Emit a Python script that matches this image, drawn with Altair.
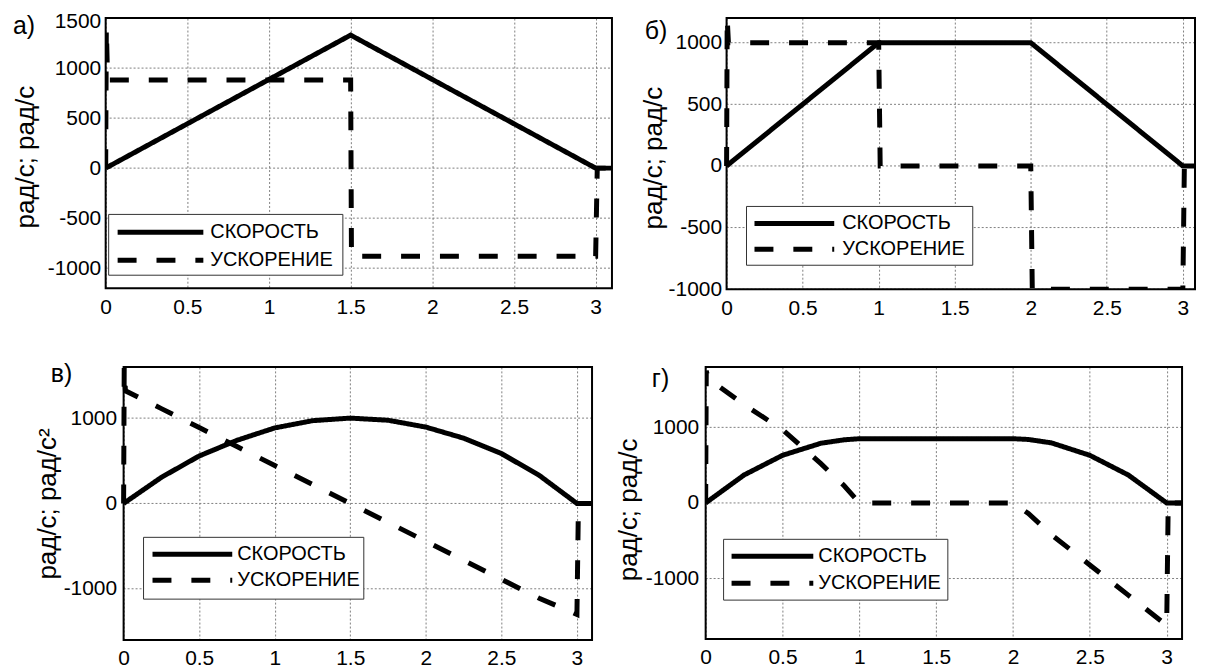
import altair as alt
import pandas as pd

FONT = "Liberation Sans"
SERIES = ["СКОРОСТЬ", "УСКОРЕНИЕ"]
X_TICKS = [0, 0.5, 1, 1.5, 2, 2.5, 3]

# ---- panel а) ----
t_vel_a = [0, 1.5, 3.0, 3.1]
vel_a = [0, 1330, 0, 0]
t_acc_a = [0, 0.004, 0.012, 1.5, 1.505, 3.0, 3.01, 3.1]
acc_a = [0, 1400, 880, 880, -880, -880, 0, 0]
yticks_a = [-1000, -500, 0, 500, 1000, 1500]

# ---- panel б) ----
t_vel_b = [0, 1.0, 2.0, 3.0, 3.08]
vel_b = [0, 1000, 1000, 0, 0]
t_acc_b = [0, 0.004, 0.012, 1.0, 1.01, 2.0, 2.01, 3.0, 3.01, 3.08]
acc_b = [0, 1200, 1000, 1000, 0, 0, -1000, -1000, 0, 0]
yticks_b = [-1000, -500, 0, 500, 1000]

# ---- panel в) ----
t_vel_c = [0, 0.25, 0.5, 0.75, 1.0, 1.25, 1.5, 1.75, 2.0, 2.25, 2.5, 2.75, 3.0, 3.1]
vel_c = [0, 306, 556, 740, 885, 970, 1000, 975, 895, 765, 585, 330, 0, 0]
t_acc_c = [0, 0.004, 0.012, 0.25, 0.5, 0.75, 1.0, 1.25, 1.5, 1.75, 2.0, 2.25, 2.5, 2.75, 3.0, 3.01, 3.1]
acc_c = [0, 1600, 1320, 1111, 889, 667, 444, 222, 0, -222, -444, -667, -889, -1111, -1300, 0, 0]
yticks_c = [-1000, 0, 1000]

# ---- panel г) ----
t_vel_d = [0, 0.25, 0.5, 0.75, 0.9, 1.0, 2.0, 2.1, 2.25, 2.5, 2.75, 3.0, 3.1]
vel_d = [0, 370, 630, 790, 835, 850, 850, 840, 795, 630, 370, 0, 0]
t_acc_d = [0, 0.004, 0.015, 0.25, 0.5, 0.75, 0.9, 1.0, 2.0, 2.1, 2.25, 2.5, 2.75, 3.0, 3.01, 3.1]
acc_d = [0, 1750, 1650, 1300, 970, 520, 230, 0, 0, -140, -420, -820, -1220, -1620, 0, 0]
yticks_d = [-1000, 0, 1000]

GRID = "#808080"


def make_df(tv, v, ta, a):
    rows = []
    for i, (t, y) in enumerate(zip(tv, v)):
        rows.append({"t": t, "val": y, "series": SERIES[0], "i": i})
    for i, (t, y) in enumerate(zip(ta, a)):
        rows.append({"t": t, "val": y, "series": SERIES[1], "i": i})
    return pd.DataFrame(rows)


def panel(df, xmax, ydom, yticks, dx, w, h, ytitle, tx, ty, letter, lx, ly, leg, label_pad):
    x = alt.X("t:Q", scale=alt.Scale(domain=[0, xmax], range=[dx, dx + w], nice=False, zero=False),
              axis=alt.Axis(values=X_TICKS, title=None, labelPadding=8, grid=True,
                            labelExpr="datum.value + ''"))
    y = alt.Y("val:Q", scale=alt.Scale(domain=ydom, nice=False, zero=False),
              axis=alt.Axis(values=yticks, title=ytitle, titleX=tx, titleY=ty,
                            titleAngle=270, titleBaseline="bottom", grid=False,
                            offset=-dx, labelPadding=label_pad,
                            labelOffset={"condition": {"test": "datum.value == 1500", "value": 3},
                                         "value": 0},
                            labelExpr="datum.value + ''"))
    grid = alt.Chart(pd.DataFrame({"val": yticks})).mark_rule(
        color=GRID, strokeDash=[2, 2], strokeWidth=1
    ).encode(y=y, x=alt.value(dx), x2=alt.value(dx + w))
    lines = alt.Chart(df).mark_line(
        color="black", strokeWidth=5, clip=True, strokeCap="butt"
    ).encode(
        x=x, y=y,
        strokeDash=alt.StrokeDash("series:N",
                                  scale=alt.Scale(domain=SERIES, range=[[1, 0], [19, 20]]),
                                  legend=None),
        order="i:Q",
    )
    one = pd.DataFrame({"k": [0]})
    frame = alt.Chart(one).mark_rect(fillOpacity=0, stroke="black", strokeWidth=2).encode(
        x=alt.value(dx), x2=alt.value(dx + w), y=alt.value(0), y2=alt.value(h))
    bx1, bx2, by1, by2, sx1, sx2, sy1, sy2, txx = leg
    box = alt.Chart(one).mark_rect(fill="white", stroke="#333", strokeWidth=1).encode(
        x=alt.value(dx + bx1), x2=alt.value(dx + bx2), y=alt.value(by1), y2=alt.value(by2))
    s1 = alt.Chart(one).mark_rule(color="black", strokeWidth=5).encode(
        x=alt.value(dx + sx1), x2=alt.value(dx + sx2), y=alt.value(sy1))
    s2 = alt.Chart(one).mark_rule(color="black", strokeWidth=5, strokeDash=[19, 20]).encode(
        x=alt.value(dx + sx1), x2=alt.value(dx + sx2), y=alt.value(sy2))
    t1 = alt.Chart(one).mark_text(align="left", baseline="middle", fontSize=20, font=FONT,
                                  color="black").encode(
        x=alt.value(dx + txx), y=alt.value(sy1), text=alt.value(SERIES[0]))
    t2 = alt.Chart(one).mark_text(align="left", baseline="middle", fontSize=20, font=FONT,
                                  color="black").encode(
        x=alt.value(dx + txx), y=alt.value(sy2), text=alt.value(SERIES[1]))
    lab = alt.Chart(one).mark_text(align="left", baseline="middle", fontSize=25, font=FONT,
                                   color="black").encode(
        x=alt.value(dx + lx), y=alt.value(ly), text=alt.value(letter))
    return alt.layer(grid, lines, frame, box, s1, s2, t1, t2, lab).properties(
        width=dx + w, height=h)


pa = panel(make_df(t_vel_a, vel_a, t_acc_a, acc_a), 3.1, [-1200, 1500], yticks_a, 0, 508, 271,
           "рад/с;  рад/с", -67, 139, "а)", -93, 8,
           (3, 238, 197, 258, 12, 98, 215, 243, 105), 5)
pb = panel(make_df(t_vel_b, vel_b, t_acc_b, acc_b), 3.08, [-1000, 1200], yticks_b, 21, 470, 272,
           "рад/с; рад/с", -60, 140, "б)", -82, 13,
           (20, 247, 189, 248, 28, 108, 206, 232, 116), 5)
pc = panel(make_df(t_vel_c, vel_c, t_acc_c, acc_c), 3.1, [-1600, 1600], yticks_c, 18, 470, 274,
           "рад/с; рад/с²", -63, 137, "в)", -73, 7,
           (20, 241, 171, 233, 29, 109, 188, 214, 114), 7)
pd_ = panel(make_df(t_vel_d, vel_d, t_acc_d, acc_d), 3.1, [-1800, 1800], yticks_d, 0, 478, 273,
            "рад/с; рад/с", -64, 143, "г)", -54, 12,
            (18, 243, 173, 234, 26, 108, 190, 217, 113), 7)

chart = alt.concat(pa, pb, pc, pd_, columns=2, bounds="full",
                   spacing=alt.RowColnumber(row=42, column=1)).properties(
    padding={"left": 4, "top": 0, "right": 0, "bottom": 0}
).configure_axis(
    labelFont=FONT, labelFontSize=21, labelColor="black", labelFlush=False,
    titleFont=FONT, titleFontSize=26, titleColor="black", titleFontWeight="normal",
    ticks=False, domain=False, gridColor=GRID, gridDash=[2, 2], gridWidth=1,
).configure_view(stroke="transparent")

chart.save("out.html", embed_options={"renderer": "svg", "actions": False})
